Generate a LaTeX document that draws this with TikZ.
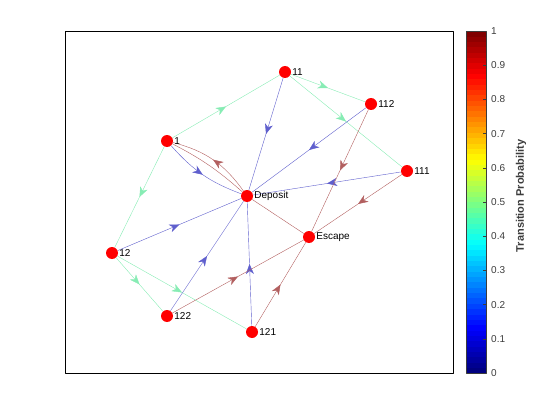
\documentclass[tikz,border=0pt]{standalone}
\usepackage{fontspec}
\setmainfont{Liberation Sans}
\usetikzlibrary{arrows.meta,decorations.markings,backgrounds}
\definecolor{pgreen}{RGB}{135,236,180}
\definecolor{pblue}{RGB}{95,95,205}
\definecolor{pred}{RGB}{178,95,95}
\definecolor{tickgray}{RGB}{60,60,60}
\tikzset{
  state/.style={circle,fill=red,inner sep=0pt,minimum size=12pt},
  statelabel/.style={inner sep=1pt,font=\fontsize{10}{12}\selectfont},
  midarrow/.style={postaction={decorate,decoration={markings,mark=at position 0.5 with {\arrow{>}}}}},
  edge/.style={line width=1.3pt,line cap=round}
}
\begin{document}
\begin{tikzpicture}[x=1pt,y=-1pt,>={Stealth[length=10pt,width=8pt,inset=3pt]},line join=round]
	\useasboundingbox (0,0) rectangle (560,420);
	\draw[line width=0.7pt] (65,31) rectangle (453,373);
	% states
	\node[state,label={[statelabel]right:11}] (n11) at (285,72) {};
	\node[state,label={[statelabel]right:112}] (n112) at (371,104) {};
	\node[state,label={[statelabel]right:1}] (n1) at (167,141) {};
	\node[state,label={[statelabel]right:111}] (n111) at (407,171) {};
	\node[state,label={[statelabel]right:Deposit}] (dep) at (247,196) {};
	\node[state,label={[statelabel]right:Escape}] (esc) at (309,237) {};
	\node[state,label={[statelabel]right:12}] (n12) at (112,253) {};
	\node[state,label={[statelabel]right:122}] (n122) at (167,316) {};
	\node[state,label={[statelabel]right:121}] (n121) at (252,332) {};
	% transitions
	\begin{scope}[on background layer,edge]
	\draw[pgreen,midarrow] (n1)--(n11);
	\draw[pgreen,midarrow] (n1)--(n12);
	\draw[pgreen,midarrow] (n11)--(n112);
	\draw[pgreen,midarrow] (n11)--(n111);
	\draw[pgreen,midarrow] (n12)--(n122);
	\draw[pgreen,midarrow] (n12)--(n121);
	\draw[pblue,midarrow] (n11)--(dep);
	\draw[pblue,midarrow] (n112)--(dep);
	\draw[pblue,midarrow] (n111)--(dep);
	\draw[pblue,midarrow] (n12)--(dep);
	\draw[pblue,midarrow] (n122)--(dep);
	\draw[pblue,midarrow] (n121)--(dep);
	\draw[pblue,midarrow] (n1) to[bend right=14] (dep);
	\draw[pred] (dep) to[bend right=7] (n1);
	\draw[pred,midarrow] (dep) to[bend right=20] (n1);
	\draw[pred] (dep)--(esc);
	\draw[pred,midarrow] (n112)--(esc);
	\draw[pred,midarrow] (n111)--(esc);
	\draw[pred,midarrow] (n122)--(esc);
	\draw[pred,midarrow] (n121)--(esc);
	\end{scope}
	% colorbar
	\foreach \i in {0,...,63}{
		\pgfmathsetmacro{\jt}{\i/63}
		\pgfmathsetmacro{\jr}{max(0,min(1,1.5-abs(4*\jt-3)))}
		\pgfmathsetmacro{\jg}{max(0,min(1,1.5-abs(4*\jt-2)))}
		\pgfmathsetmacro{\jb}{max(0,min(1,1.5-abs(4*\jt-1)))}
		\definecolor{jetc}{rgb}{\jr,\jg,\jb}
		\fill[jetc] (466,{373-\i*5.34375+0.3}) rectangle (486,{373-(\i+1)*5.34375});
	}
	\draw[line width=0.6pt,tickgray] (466,31) rectangle (486,373);
	\foreach \v [count=\k from 0] in {0,0.1,0.2,0.3,0.4,0.5,0.6,0.7,0.8,0.9,1}{
		\draw[line width=0.5pt,tickgray] (486,{373-\k*34.2})--(483,{373-\k*34.2});
		\node[anchor=west,inner sep=0pt,tickgray,font=\fontsize{10}{12}\selectfont] (tick\k) at (491,{373-\k*34.2}) {\v};
	}
	\node[rotate=90,font=\fontsize{11}{13}\selectfont\bfseries,text=tickgray] (cbtitle) at (521,196) {Transition Probability};
\end{tikzpicture}
\end{document}
